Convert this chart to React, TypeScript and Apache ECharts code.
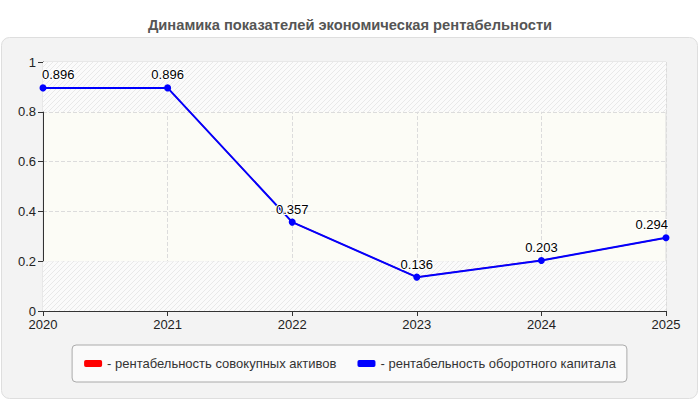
import React, { useEffect, useRef } from "react";
import * as echarts from "echarts";

const years = ["2020", "2021", "2022", "2023", "2024", "2025"];
const assetsReturn = [0.896, 0.896, 0.357, 0.136, 0.203, 0.294];
const workingCapitalReturn = [0.896, 0.896, 0.357, 0.136, 0.203, 0.294];
const seriesNames = ["рентабельность совокупных активов", "рентабельность оборотного капитала"];
const titleText = "Динамика показателей экономическая рентабельности";

function makeHatch(): string {
  const c = document.createElement("canvas");
  c.width = 5;
  c.height = 5;
  const ctx = c.getContext("2d")!;
  ctx.fillStyle = "#fbfbfb";
  ctx.fillRect(0, 0, 5, 5);
  ctx.strokeStyle = "rgba(222,222,222,0.9)";
  ctx.lineWidth = 0.7;
  ctx.beginPath();
  ctx.moveTo(-1, 6);
  ctx.lineTo(6, -1);
  ctx.moveTo(-1, 1);
  ctx.lineTo(1, -1);
  ctx.moveTo(4, 6);
  ctx.lineTo(6, 4);
  ctx.stroke();
  return c.toDataURL();
}

export default function App() {
  const ref = useRef<HTMLDivElement>(null);
  useEffect(() => {
    document.body.style.margin = "0";
    const chart = echarts.init(ref.current!, null, { renderer: "svg" });
    const hatch = { image: makeHatch(), repeat: "repeat", imageWidth: 5, imageHeight: 5 } as any;
    const font = "'Liberation Sans', Arial, sans-serif";
    const n = years.length;
    const labelFor = (i: number) =>
      i === 0 ? { align: "left", offset: [-1, 0] } : i === n - 1 ? { align: "right", offset: [2, 0] } : {};
    chart.setOption({
      animation: false,
      textStyle: { fontFamily: font },
      title: {
        text: titleText,
        left: "center",
        top: 12,
        textStyle: { fontSize: 14.7, fontWeight: "bold", color: "#555", fontFamily: font },
      },
      graphic: [
        {
          type: "rect",
          z: -10,
          silent: true,
          shape: { x: 1.5, y: 37.5, width: 696, height: 361, r: 8 },
          style: { fill: "#f3f3f3", stroke: "#dedede", lineWidth: 1 },
        },
      ],
      grid: {
        left: 43,
        right: 34,
        top: 62,
        bottom: 89,
        show: true,
        backgroundColor: "#fcfcf6",
        borderColor: "#dddddd",
        borderWidth: 1,
      },
      legend: {
        left: "center",
        top: 345,
        padding: [12, 11, 12, 12],
        itemGap: 21,
        itemWidth: 18,
        itemHeight: 7,
        icon: "roundRect",
        backgroundColor: "#fafafa",
        borderColor: "#aaaaaa",
        borderWidth: 1,
        borderRadius: 4,
        formatter: "- {name}",
        textStyle: { fontSize: 13, color: "#333", fontFamily: font },
        data: seriesNames,
      },
      xAxis: {
        type: "category",
        data: years,
        boundaryGap: false,
        axisLine: { lineStyle: { color: "#333" } },
        axisTick: { show: true, length: 5, lineStyle: { color: "#333" } },
        axisLabel: { color: "#222", fontSize: 13, margin: 7 },
        splitLine: { show: true, lineStyle: { type: "dashed", color: "#dcdcdc" } },
      },
      yAxis: {
        type: "value",
        min: 0,
        max: 1,
        interval: 0.2,
        axisLine: { show: true, lineStyle: { color: "#333" } },
        axisTick: { show: true, length: 5, lineStyle: { color: "#333" } },
        axisLabel: { color: "#222", fontSize: 13, margin: 7 },
        splitLine: { show: true, lineStyle: { type: "dashed", color: "#dcdcdc" } },
      },
      series: [
        {
          name: seriesNames[0],
          type: "line",
          data: assetsReturn,
          color: "#ff0000",
          symbol: "circle",
          symbolSize: 5,
          lineStyle: { width: 1.2 },
          markArea: {
            silent: true,
            itemStyle: { color: hatch },
            data: [
              [{ yAxis: 0.8 }, { yAxis: 1 }],
              [{ yAxis: 0 }, { yAxis: 0.2 }],
            ],
          },
        },
        {
          name: seriesNames[1],
          type: "line",
          data: workingCapitalReturn.map((v, i) => ({ value: v, label: labelFor(i) })),
          color: "#0000ff",
          symbol: "circle",
          symbolSize: 7,
          lineStyle: { width: 2 },
          label: {
            show: true,
            position: "top",
            distance: 3,
            color: "#000",
            fontSize: 13,
            fontFamily: font,
            textBorderColor: "#fff",
            textBorderWidth: 2,
          },
        },
      ],
    } as any);
    return () => chart.dispose();
  }, []);
  return <div ref={ref} style={{ width: 700, height: 400 }} />;
}
